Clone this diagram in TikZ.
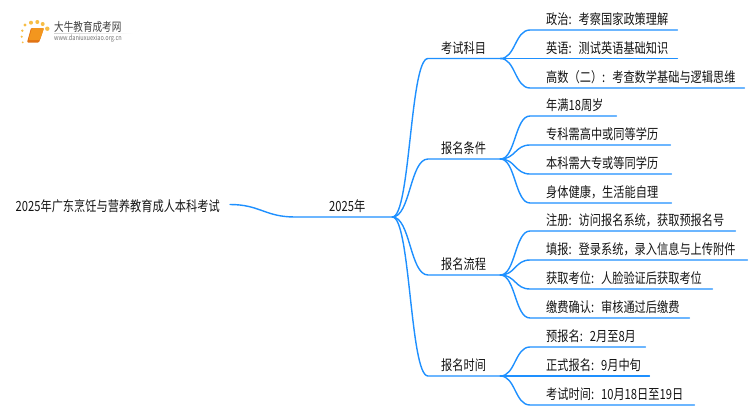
\documentclass[tikz,border=0pt]{standalone}
\usepackage{fontspec}
\setmainfont[FakeStretch=0.8]{Noto Sans CJK SC}
\definecolor{twigblue}{RGB}{30,144,255}
\definecolor{inkgray}{RGB}{20,20,20}
\definecolor{sundot}{RGB}{247,190,70}
\definecolor{bookface}{RGB}{243,150,30}
\definecolor{bookedge}{RGB}{225,115,20}
\tikzset{
  label/.style   = {anchor=south west,inner xsep=0pt,inner ysep=5.3pt,text depth=0pt,
                    align=left,text=inkgray,font=\fontsize{14}{16}\selectfont},
  twig/.style    = {draw=twigblue,line width=1.4pt,line cap=round},
  logotext/.style= {anchor=west,inner sep=0pt}
}
\begin{document}
\begin{tikzpicture}[x=1pt,y=-1pt]
  \useasboundingbox[fill=white] (0,0) rectangle (750,410);

  \fill[sundot]            (22.3,30.7) circle (1.3)  (21.7,36.7) circle (1.2)
                           (22.7,42.3) circle (1)    (25,25)     circle (1.7)
                           (31,22.7)   circle (2)    (37.3,22)   circle (2)
                           (42.7,24)   circle (2)    (47.3,28.7) circle (2.2);
  \fill[bookedge,rounded corners=1pt] (31,28) -- (44,28) -- (39,42.5) -- (27,42.5) -- cycle;
  \fill[bookface,rounded corners=1pt] (32,28) -- (44,28) -- (40,40)   -- (28.5,40) -- cycle;
  \shade[left color=gray!35,right color=white] (54,33) rectangle (133,33.8);
  \node[logotext,text=black!75,font=\fontsize{12}{12}\selectfont] (logoname) at (54,27) {大牛教育成考网};
  \node[logotext,text=black!55,font=\fontsize{7}{7}\selectfont]   (logourl)  at (54,39) {www.daniuxuexiao.org.cn};

  \node[label,anchor=east,inner ysep=0pt] (root) at (220,206) {2025年广东烹饪与营养教育成人本科考试};
  \node[label,text width=63pt]   (year)     at (329,217) {2025年};

  \node[label,text width=59pt]   (subjects) at (441,58.5) {考试科目};
  \node[label,text width=59pt]   (terms)    at (441,159)  {报名条件};
  \node[label,text width=59pt]   (process)  at (441,275)  {报名流程};
  \node[label,text width=59pt]   (dates)    at (441,376)  {报名时间};

  \node[label,text width=131pt]  (politics) at (546,30)   {政治: 考察国家政策理解};
  \node[label,text width=131pt]  (english)  at (546,58.5) {英语: 测试英语基础知识};
  \node[label,text width=198pt]  (maths)    at (546,88)   {高数（二）: 考查数学基础与逻辑思维};

  \node[label,text width=70pt]   (age)      at (546,116)  {年满18周岁};
  \node[label,text width=124pt]  (school)   at (546,145)  {专科需高中或同等学历};
  \node[label,text width=125pt]  (college)  at (546,174)  {本科需大专或等同学历};
  \node[label,text width=125pt]  (health)   at (546,203)  {身体健康，生活能自理};

  \node[label,text width=189pt]  (signup)   at (546,231)  {注册: 访问报名系统，获取预报名号};
  \node[label,text width=201pt]  (fillin)   at (546,260)  {填报: 登录系统，录入信息与上传附件};
  \node[label,text width=166pt]  (seat)     at (546,289)  {获取考位: 人脸验证后获取考位};
  \node[label,text width=143pt]  (payment)  at (546,318)  {缴费确认: 审核通过后缴费};

  \node[label,text width=99pt]   (prereg)   at (546,347)  {预报名: 2月至8月};
  \node[label,text width=103pt]  (formal)   at (546,376)  {正式报名: 9月中旬};
  \node[label,text width=148pt]  (exam)     at (546,405)  {考试时间: 10月18日至19日};

  \draw[twig] (root.east)+(10,-1.5) to[out=0,in=180,distance=30pt] ([xshift=-34pt]year.south west) -- (year.south east);

  \draw[twig] (year.south east) to[out=0,in=180,distance=18pt] ([xshift=-13pt]subjects.south west) -- (subjects.south east);
  \draw[twig] (year.south east) to[out=0,in=180,distance=18pt] ([xshift=-13pt]terms.south west)    -- (terms.south east);
  \draw[twig] (year.south east) to[out=0,in=180,distance=18pt] ([xshift=-13pt]process.south west)  -- (process.south east);
  \draw[twig] (year.south east) to[out=0,in=180,distance=18pt] ([xshift=-13pt]dates.south west)    -- (dates.south east);

  \draw[twig] (subjects.south east) to[out=0,in=180,distance=15pt] ([xshift=-16pt]politics.south west) -- (politics.south east);
  \draw[twig] (subjects.south east) -- (english.south east);
  \draw[twig] (subjects.south east) to[out=0,in=180,distance=15pt] ([xshift=-16pt]maths.south west)    -- (maths.south east);

  \draw[twig] (terms.south east) to[out=0,in=180,distance=15pt] ([xshift=-16pt]age.south west)     -- (age.south east);
  \draw[twig] (terms.south east) to[out=0,in=180,distance=15pt] ([xshift=-16pt]school.south west)  -- (school.south east);
  \draw[twig] (terms.south east) to[out=0,in=180,distance=15pt] ([xshift=-16pt]college.south west) -- (college.south east);
  \draw[twig] (terms.south east) to[out=0,in=180,distance=15pt] ([xshift=-16pt]health.south west)  -- (health.south east);

  \draw[twig] (process.south east) to[out=0,in=180,distance=15pt] ([xshift=-16pt]signup.south west)  -- (signup.south east);
  \draw[twig] (process.south east) to[out=0,in=180,distance=15pt] ([xshift=-16pt]fillin.south west)  -- (fillin.south east);
  \draw[twig] (process.south east) to[out=0,in=180,distance=15pt] ([xshift=-16pt]seat.south west)    -- (seat.south east);
  \draw[twig] (process.south east) to[out=0,in=180,distance=15pt] ([xshift=-16pt]payment.south west) -- (payment.south east);

  \draw[twig] (dates.south east) to[out=0,in=180,distance=15pt] ([xshift=-16pt]prereg.south west) -- (prereg.south east);
  \draw[twig] (dates.south east) -- (formal.south east);
  \draw[twig] (dates.south east) to[out=0,in=180,distance=15pt] ([xshift=-16pt]exam.south west)   -- (exam.south east);
\end{tikzpicture}
\end{document}
